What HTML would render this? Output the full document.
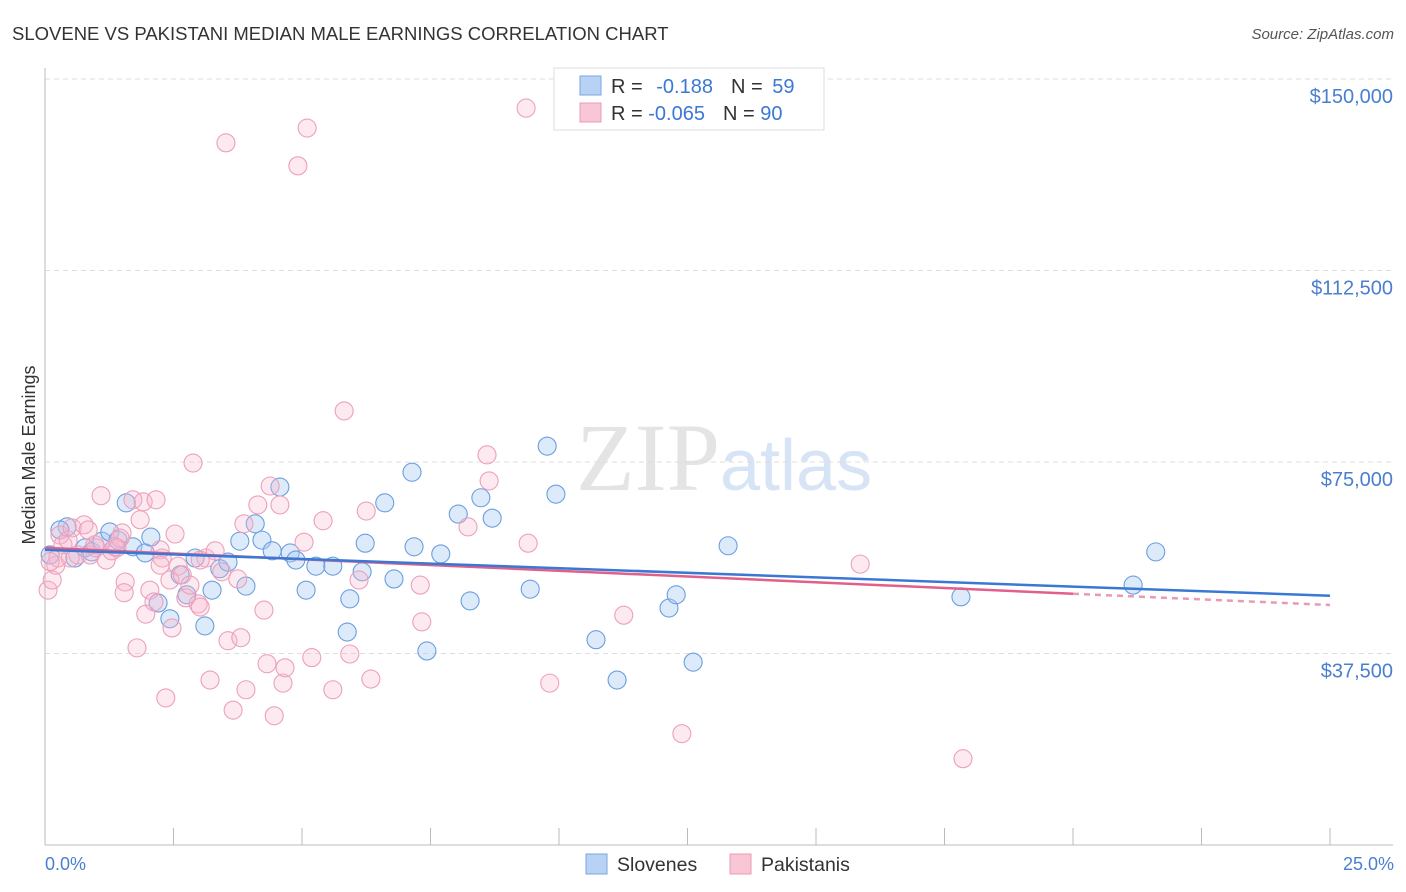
<!DOCTYPE html>
<html><head><meta charset="utf-8"><style>
body{margin:0;background:#fff;font-family:"Liberation Sans",sans-serif}
svg{display:block}
</style></head><body>
<svg id="c" width="1406" height="892" viewBox="0 0 1406 892">
<text x="12" y="40" font-size="18.5" fill="#333">SLOVENE VS PAKISTANI MEDIAN MALE EARNINGS CORRELATION CHART</text>
<text x="1394" y="39" font-size="15" fill="#555" text-anchor="end" font-style="italic">Source: ZipAtlas.com</text>
<text x="720" y="490" font-size="96" fill="#e4e4e4" text-anchor="end" font-family="Liberation Serif">ZIP</text>
<text x="720" y="490" font-size="72" fill="#d6e4f6">atlas</text>
<g id="grid"></g>
<g id="marks"></g>
<text transform="translate(35,455) rotate(-90)" font-size="18" fill="#333" text-anchor="middle">Median Male Earnings</text>
<text x="45" y="870" font-size="18" fill="#4a7fd0">0.0%</text>
<text x="1394" y="870" font-size="18" fill="#4a7fd0" text-anchor="end">25.0%</text>
<g>
<rect x="554" y="68" width="270" height="62" fill="#fff" stroke="#ddd"/>
<rect x="580" y="76" width="21" height="19" fill="#b8d2f4" stroke="#7aa6e0"/>
<rect x="580" y="103" width="21" height="19" fill="#f9c6d6" stroke="#e99ab4"/>
<text x="611" y="93" font-size="20" fill="#333">R = <tspan fill="#3a78d4" dx="8">-0.188</tspan><tspan dx="18" fill="#333">N = </tspan><tspan fill="#3a78d4" dx="4">59</tspan></text>
<text x="611" y="120" font-size="20" fill="#333">R = <tspan fill="#3a78d4">-0.065</tspan><tspan dx="18" fill="#333">N = </tspan><tspan fill="#3a78d4">90</tspan></text>
</g>
<g>
<rect x="586" y="854" width="21" height="20" fill="#b8d2f4" stroke="#7aa6e0"/>
<text x="617" y="871" font-size="19.5" fill="#333">Slovenes</text>
<rect x="730" y="854" width="21" height="20" fill="#f9c6d6" stroke="#e99ab4"/>
<text x="761" y="871" font-size="19.5" fill="#333">Pakistanis</text>
</g>
</svg>
<script>
const yTicks=[150000,112500,75000,37500];
const yTickLabels=["$150,000","$112,500","$75,000","$37,500"];
const xTicks=[0,2.5,5,7.5,10,12.5,15,17.5,20,22.5,25];
const sloveneX=[0.43,0.58,0.78,0.91,1.11,1.26,1.42,1.58,1.71,1.95,2.06,2.20,2.43,2.63,2.76,2.92,3.11,3.25,3.40,3.56,3.79,3.91,4.09,4.22,4.42,4.57,4.77,4.88,5.08,5.27,5.60,5.88,5.93,6.17,6.23,6.61,6.79,7.14,7.18,7.43,7.70,8.04,8.27,8.48,8.70,9.44,9.77,9.94,10.72,11.13,12.14,12.28,12.61,13.29,17.82,21.17,21.61,0.29,0.10];
const sloveneY=[62.3,56.2,58.2,57.4,59.5,61.3,59.7,67.0,58.4,57.2,60.3,47.4,44.3,52.9,49.0,56.2,42.9,49.9,54.1,55.4,59.5,50.7,62.9,59.7,57.6,70.1,57.2,55.8,49.9,54.6,54.6,41.7,48.2,53.5,59.1,67.0,52.1,73.0,58.4,38.0,57.0,64.8,47.8,68.0,64.0,50.1,78.1,68.7,40.2,32.3,46.4,49.0,35.8,58.6,48.6,50.9,57.4,61.7,56.8];
const pakX=[0.06,0.14,0.21,0.29,0.35,0.45,0.53,0.64,0.76,0.88,0.99,1.09,1.19,1.30,1.40,1.50,1.56,1.54,1.71,1.79,1.91,1.96,2.04,2.12,2.16,2.24,2.28,2.35,2.43,2.47,2.53,2.59,2.67,2.74,2.82,2.88,2.98,3.02,3.13,3.21,3.31,3.44,3.56,3.52,3.66,3.75,3.81,3.91,3.87,4.14,4.26,4.32,4.38,4.57,4.63,4.67,4.46,4.92,5.04,5.10,5.19,5.41,5.60,5.82,5.93,6.11,6.25,6.34,7.30,7.33,8.23,8.60,8.64,9.36,9.40,9.82,11.26,12.39,15.86,17.86,1.46,0.97,0.49,0.25,0.84,1.85,1.36,3.02,2.24,0.1];
const pakY=[49.9,51.9,54.8,60.7,58.8,59.7,62.1,56.8,62.7,56.8,58.2,68.4,55.8,57.6,58.2,61.1,51.5,49.4,67.6,38.6,67.2,45.2,49.9,47.6,67.6,57.8,56.2,28.8,51.9,42.5,60.9,54.6,52.9,48.4,50.9,74.8,47.2,46.6,56.2,32.3,57.6,53.5,40.0,137.5,26.4,52.1,40.6,30.4,62.9,66.6,46.0,35.5,70.3,66.6,31.7,34.7,25.3,133.0,59.3,140.4,36.7,63.5,30.4,85.0,37.4,51.9,65.4,32.5,50.9,43.7,62.3,76.4,71.3,144.3,59.1,31.7,45.0,21.8,55.0,16.9,60.1,58.8,56.2,56.2,61.7,63.7,58.4,55.8,54.8,55.5];
const sloveneTrend=[[0,57.8],[25,48.8]];
const pakTrendSolid=[[0,58.2],[20,49.2]];
const pakTrendDash=[[20,49.2],[25,47.0]];
const NS='http://www.w3.org/2000/svg';
const X=p=>45+p/25*1285;
const Y=v=>845-v/150000*766;
const Yk=k=>Y(k*1000);
function mk(t,a,parent){const e=document.createElementNS(NS,t);for(const k in a)e.setAttribute(k,a[k]);parent.appendChild(e);return e;}
const grid=document.getElementById('grid'),marks=document.getElementById('marks');
yTicks.forEach((v,i)=>{
 const l=mk('line',{x1:45,x2:1393,y1:Y(v),y2:Y(v),stroke:'#ddd','stroke-dasharray':'5,4'},grid);
 
 
 const t=mk('text',{x:1393,y:Y(v)+24,'font-size':20,fill:'#4a7fd0','text-anchor':'end'},grid);
 t.textContent=yTickLabels[i];
 
 
});
const ax=mk('line',{x1:45,x2:45,y1:68,y2:845,stroke:'#bbb'},grid);


const bx=mk('line',{x1:45,x2:1393,y1:845,y2:845,stroke:'#bbb'},grid);


xTicks.forEach(p=>{const t=mk('line',{x1:X(p),x2:X(p),y1:828,y2:845,stroke:'#bbb'},grid);
 
 });
sloveneX.forEach((p,i)=>{const c=mk('circle',{cx:X(p),cy:Yk(sloveneY[i]),r:9,fill:'rgba(170,202,242,0.4)',stroke:'#6a9fe0','stroke-width':1.1},marks);
 
 });
pakX.forEach((p,i)=>{const c=mk('circle',{cx:X(p),cy:Yk(pakY[i]),r:9,fill:'rgba(248,182,204,0.3)',stroke:'#eda0ba','stroke-width':1.1},marks);
 
 });
function tl(s,col,dash,name){const l=mk('line',{x1:X(s[0][0]),y1:Yk(s[0][1]),x2:X(s[1][0]),y2:Yk(s[1][1]),stroke:col,'stroke-width':2.5},marks);
 if(dash)l.setAttribute('stroke-dasharray','6,5');
 
 }
tl(pakTrendSolid,'#e0608a',false,'pakistani-trend-line');
tl(pakTrendDash,'#e89ab4',true,'pakistani-trend-extension');
tl(sloveneTrend,'#3a78d4',false,'slovene-trend-line');
</script>
</body></html>
